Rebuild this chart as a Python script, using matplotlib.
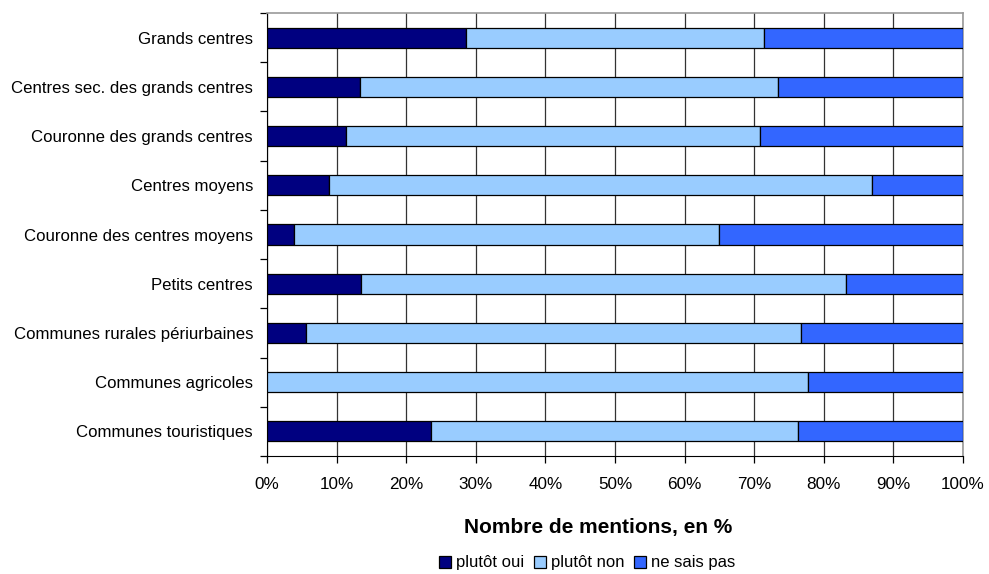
import matplotlib
matplotlib.use("Agg")
import matplotlib.pyplot as plt
import numpy as np

plt.rcParams['font.family'] = ['Liberation Sans', 'DejaVu Sans']

categories = ["Grands centres", "Centres sec. des grands centres", "Couronne des grands centres",
              "Centres moyens", "Couronne des centres moyens", "Petits centres",
              "Communes rurales périurbaines", "Communes agricoles", "Communes touristiques"]
plutot_oui = [28.6, 13.4, 11.4, 8.9, 3.9, 13.5, 5.6, 0.0, 23.6]
plutot_non = [42.8, 60.0, 59.4, 78.0, 61.1, 69.7, 71.1, 77.7, 52.7]
ne_sais_pas = [100 - a - b for a, b in zip(plutot_oui, plutot_non)]
series_names = ["plutôt oui", "plutôt non", "ne sais pas"]
colors = ["#000080", "#99CCFF", "#3366FF"]
xticks = list(range(0, 101, 10))
xtick_labels = [f"{v}%" for v in xticks]

W, H = 989, 574
fig = plt.figure(figsize=(W / 100, H / 100), dpi=100)
ax = fig.add_axes([267 / W, 1 - 456 / H, (963 - 267) / W, (456 - 13) / H])

y = np.arange(len(categories))
left = np.zeros(len(categories))
for vals, name, c in zip([plutot_oui, plutot_non, ne_sais_pas], series_names, colors):
    ax.barh(y, vals, left=left, height=0.41, color=c, edgecolor="black", linewidth=0.9,
            label=name, zorder=3)
    left += np.array(vals)

ax.set_xlim(0, 100)
ax.set_ylim(len(categories) - 0.5, -0.5)
ax.set_xticks(xticks)
ax.set_xticklabels(xtick_labels, fontsize=12.3)
ax.set_yticks(y)
ax.set_yticklabels(categories, fontsize=12.1)
ax.tick_params(axis='y', length=0, pad=10)
ax.set_yticks(np.arange(-0.5, len(categories), 1), minor=True)
ax.tick_params(axis='y', which='minor', length=5, width=0.9)
ax.tick_params(axis='x', length=5, width=0.9, pad=10)
ax.xaxis.grid(True, color="#333333", linewidth=0.9, zorder=0)
ax.set_axisbelow(True)
for s in ["top", "right"]:
    ax.spines[s].set_color("#999999")
    ax.spines[s].set_linewidth(1.2)
ax.spines["left"].set_color("black")
ax.spines["bottom"].set_color("black")

fig.text(598 / W, 1 - 527 / H, "Nombre de mentions, en %", fontsize=15, fontweight="bold",
         ha="center", va="center")

handles, labels = ax.get_legend_handles_labels()
fig.legend(handles, labels, loc="center", bbox_to_anchor=(587 / W, 1 - 563 / H), ncol=3,
           frameon=False, fontsize=12, handlelength=0.7, handleheight=0.7,
           handletextpad=0.3, columnspacing=0.6, borderpad=0)

fig.savefig("out.png", dpi=100)
